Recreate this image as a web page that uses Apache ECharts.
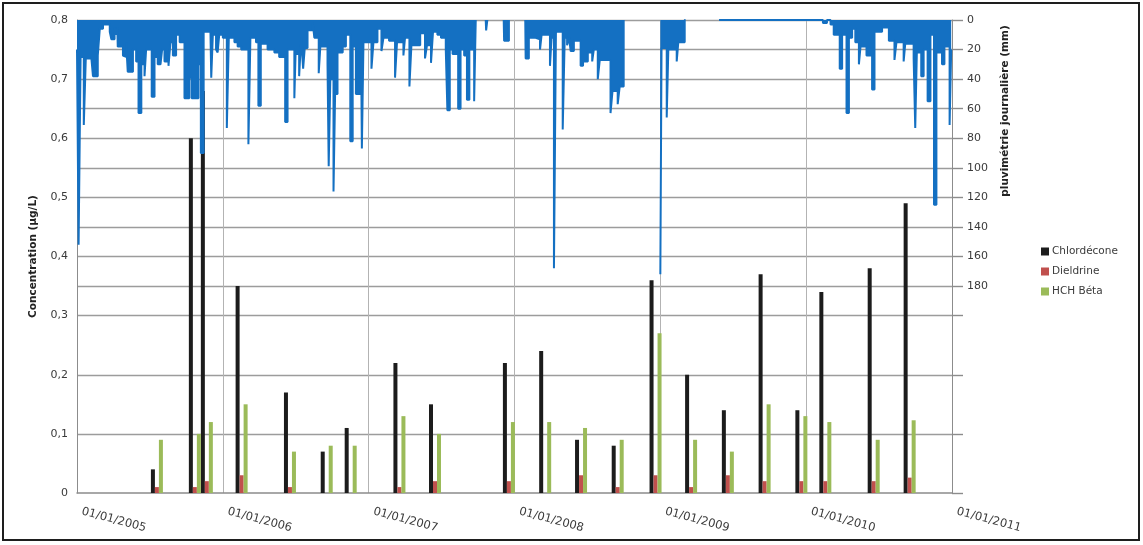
<!DOCTYPE html>
<html>
<head>
<meta charset="utf-8">
<script src="https://cdn.jsdelivr.net/npm/echarts@6/dist/echarts.min.js"></script>
<style>
  html, body { margin: 0; padding: 0; background: #ffffff; }
  #chart { width: 1143px; height: 545px; }
</style>
</head>
<body>
<div id="chart"></div>
<script>
// Sampling campaigns (one cluster of three bars per date)
const sampleDates = [
  '2005-07-20', '2005-10-23', '2005-11-22', '2006-02-17', '2006-06-18', '2006-09-18', '2006-11-17',
  '2007-03-19', '2007-06-16', '2007-12-18', '2008-03-18', '2008-06-16', '2008-09-16', '2008-12-20',
  '2009-03-19', '2009-06-19', '2009-09-19', '2009-12-20', '2010-02-18', '2010-06-19', '2010-09-17'
];
// Concentrations in µg/L
const chlordecone = [0.04, 0.60, 0.68, 0.35, 0.17, 0.07, 0.11, 0.22, 0.15, 0.22, 0.24, 0.09, 0.08, 0.36, 0.20, 0.14, 0.37, 0.14, 0.34, 0.38, 0.49];
const dieldrine   = [0.01, 0.01, 0.02, 0.03, 0.01, null, null, 0.01, 0.02, 0.02, null, 0.03, 0.01, 0.03, 0.01, 0.03, 0.02, 0.02, 0.02, 0.02, 0.026];
const hchBeta     = [0.09, 0.10, 0.12, 0.15, 0.07, 0.08, 0.08, 0.13, 0.10, 0.12, 0.12, 0.11, 0.09, 0.27, 0.09, 0.07, 0.15, 0.13, 0.12, 0.09, 0.123];

// Daily rainfall (mm), as [day of year, mm]; each value holds until the next entry, null = no record
const rain2005 = [[1,20],[5,152],[10,25],[18,71],[23,26],[37,26],[41,38],[53,24],[58,6],[66,3],[83,8],[87,13],[95,5],[99,10],[102,5],[103,18],[116,24],[120,25],[124,15],[128,35],[141,20],[149,28],[155,63],[162,30],[170,38],[174,20],[188,52],[195,25],[203,30],[210,31],[214,20],[220,28],[230,31],[235,15],[241,24],[249,10],[258,15],[270,53],[282,39],[288,53],[305,30],[311,90],[318,8],[335,8],[337,39],[341,10],[349,20],[353,22],[357,10]];
const rain2006 = [[1,12],[11,73],[16,12],[30,15],[38,18],[47,20],[65,84],[70,12],[84,15],[90,58],[96,16],[113,20],[130,22],[142,25],[157,69],[163,20],[180,53],[183,23],[192,38],[197,12],[202,33],[206,19],[213,7],[226,2],[230,12],[241,36],[245,18],[263,30],[266,99],[270,40],[278,116],[282,50],[288,22],[301,18],[309,10],[320,82],[326,18],[334,50],[347,20],[349,87],[353,15]];
const rain2007 = [[1,15],[8,33],[13,15],[23,6],[33,21],[38,12],[52,14],[67,39],[72,15],[88,24],[92,12],[103,45],[108,17],[130,9],[142,26],[147,17],[157,29],[162,8],[173,10],[182,12],[194,20],[198,61],[204,20],[211,23],[225,60],[231,20],[240,24],[247,54],[253,20],[265,55],[269,0],[270,null],[294,0],[295,7],[298,0],[299,null],[339,0],[340,14],[352,0],[353,null]];
const rain2008 = [[28,0],[29,26],[37,12],[54,13],[65,20],[69,10],[90,31],[94,12],[100,168],[105,8],[122,74],[127,12],[133,17],[138,12],[142,21],[150,14],[167,31],[173,28],[185,22],[196,28],[200,20],[210,40],[215,27],[242,63],[247,48],[260,57],[265,45],[275,0],[276,null]];
const rain2009 = [[1,172],[4,19],[17,66],[21,20],[42,28],[46,15],[62,0],[64,null],[148,0],[310,1],[312,0]];
const rain2010 = [[1,0],[43,2],[53,0],[62,3],[70,10],[85,33],[91,10],[102,63],[108,12],[116,6],[124,15],[133,30],[137,18],[152,24],[166,47],[172,8],[191,5],[208,14],[222,27],[227,15],[245,28],[249,16],[270,26],[274,73],[278,22],[289,38],[295,20],[305,55],[312,10],[321,125],[327,22],[341,30],[347,18],[360,71],[364,20]];

const yearTicks = [2005, 2006, 2007, 2008, 2009, 2010, 2011];
const rainLabels = [0, 20, 40, 60, 80, 100, 120, 140, 160, 180];
const rainTicks = [0, 20, 40, 60, 80, 100, 120, 140, 160, 180, 200, 240, 280, 320];

// Dates are placed on a continuous "decimal year" scale (2005.0 = 01/01/2005)
const daysIn = y => (new Date(y + 1, 0, 1) - new Date(y, 0, 1)) / 86400000;
const yearPos = (y, dayOfYear) => y + (dayOfYear - 1) / daysIn(y);
const datePos = s => {
  const [y, m, d] = s.split('-').map(Number);
  const doy = Math.round((new Date(y, m - 1, d) - new Date(y, 0, 1)) / 86400000) + 1;
  return yearPos(y, doy);
};

const rainByYear = [[2005, rain2005], [2006, rain2006], [2007, rain2007], [2008, rain2008], [2009, rain2009], [2010, rain2010]];
const rainData = [];
rainByYear.forEach(([year, rows]) => {
  rows.forEach(([day, mm]) => rainData.push([yearPos(year, day), mm]));
});

const FONT = 'DejaVu Sans';
const TXT = '#3a3a3a';
const GRID = '#9c9c9c';
const BLUE = '#1470c2';

// Horizontal grid every 0.05 µg/L; the 0.05/0.15/0.25 levels stay blank
const hGridColors = [];
for (let i = 0; i <= 16; i++) {
  hGridColors.push(i > 0 && (i >= 7 || i % 2 === 0) ? GRID : 'rgba(0,0,0,0)');
}

const chart = echarts.init(document.getElementById('chart'), null, { renderer: 'canvas' });

const barSeries = (name, values, color) => ({
  name,
  type: 'bar',
  xAxisIndex: 0,
  yAxisIndex: 0,
  barWidth: 4,
  barGap: '0%',
  itemStyle: { color },
  data: sampleDates.map((d, i) => [datePos(d), values[i]]),
  z: 2
});

chart.setOption({
  animation: false,
  backgroundColor: '#ffffff',
  textStyle: { fontFamily: FONT },
  grid: { left: 77, right: 191, top: 20, bottom: 52, containLabel: false },
  legend: {
    data: ['Chlordécone', 'Dieldrine', 'HCH Béta'],
    orient: 'vertical',
    left: 1036,
    top: 241,
    itemWidth: 8,
    itemHeight: 8,
    itemGap: 9,
    icon: 'rect',
    textStyle: { fontFamily: FONT, fontSize: 10.5, color: TXT, padding: [0, 0, 0, -2] }
  },
  xAxis: [{
    type: 'value',
    min: 2005,
    max: 2011,
    interval: 1,
    axisLine: { show: true, lineStyle: { color: '#8c8c8c', width: 1.5 } },
    axisTick: { show: false },
    axisLabel: {
      customValues: yearTicks,
      formatter: v => '01/01/' + Math.round(v),
      rotate: -15,
      margin: 17,
      padding: [0, 0, 0, 5],
      fontFamily: FONT,
      fontSize: 11.5,
      color: TXT,
      showMinLabel: true,
      showMaxLabel: true
    },
    splitLine: { show: true, lineStyle: { color: '#b3b3b3', width: 1 } }
  }],
  yAxis: [{
    type: 'value',
    min: 0,
    max: 0.8,
    interval: 0.05,
    position: 'left',
    name: 'Concentration (µg/L)',
    nameLocation: 'middle',
    nameGap: 38,
    nameTextStyle: { fontFamily: FONT, fontWeight: 'bold', fontSize: 10.5, color: '#222' },
    axisLine: { show: true, lineStyle: { color: '#8c8c8c', width: 1 } },
    axisTick: { show: false },
    axisLabel: {
      margin: 9,
      fontFamily: FONT,
      fontSize: 11,
      color: TXT,
      formatter: v => {
        const k = Math.round(v * 100);
        if (k % 10 !== 0) return '';
        return k === 0 ? '0' : (k / 100).toFixed(1).replace('.', ',');
      }
    },
    splitLine: { show: true, lineStyle: { color: hGridColors, width: 1.4 } }
  }, {
    type: 'value',
    min: 0,
    max: 320,
    interval: 20,
    inverse: true,
    position: 'right',
    axisLine: { show: true, lineStyle: { color: '#8c8c8c', width: 1 } },
    axisTick: { show: true, length: 11, customValues: rainTicks, lineStyle: { color: '#8c8c8c', width: 1.4 } },
    axisLabel: { customValues: rainLabels, margin: 15, fontFamily: FONT, fontSize: 11, color: TXT },
    splitLine: { show: false }
  }],
  graphic: [{
    type: 'rect',
    shape: { x: 3, y: 3, width: 1136, height: 537 },
    style: { fill: 'none', stroke: '#1e1e1e', lineWidth: 2 },
    silent: true
  }, {
    type: 'text',
    x: 1005,
    y: 111,
    rotation: Math.PI / 2,
    style: {
      text: 'pluvimétrie journalière (mm)',
      font: 'bold 10.5px "DejaVu Sans"',
      fill: '#222',
      align: 'center',
      verticalAlign: 'middle'
    },
    silent: true
  }],
  series: [
    barSeries('Chlordécone', chlordecone, '#1c1c1c'),
    barSeries('Dieldrine', dieldrine, '#c0504d'),
    barSeries('HCH Béta', hchBeta, '#9bbb59'),
    {
      name: 'Pluviométrie',
      type: 'line',
      xAxisIndex: 0,
      yAxisIndex: 1,
      step: 'end',
      symbol: 'none',
      connectNulls: false,
      lineStyle: { color: BLUE, width: 2 },
      areaStyle: { color: BLUE, opacity: 1 },
      data: rainData,
      z: 4
    }
  ]
});
</script>
</body>
</html>
